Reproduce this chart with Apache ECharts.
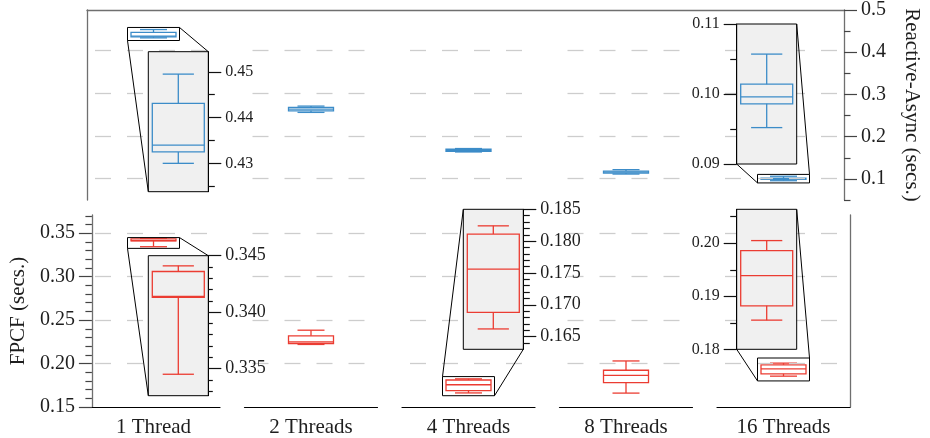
<!DOCTYPE html>
<html>
<head>
<meta charset="utf-8">
<script src="https://cdn.jsdelivr.net/npm/echarts@6/dist/echarts.min.js"></script>
<style>
  html, body { margin: 0; padding: 0; background: #fff; }
  #main { width: 930px; height: 438px; }
</style>
</head>
<body>
<div id="main"></div>
<script>
// data: [min, q1, median, q3, max] per thread count
var threads = ['1 Thread', '2 Threads', '4 Threads', '8 Threads', '16 Threads'];
var reactiveAsync = [
  [0.4300, 0.4325, 0.4340, 0.4431, 0.4495],
  [0.2553, 0.2591, 0.2631, 0.2671, 0.2701],
  [0.1626, 0.1642, 0.1666, 0.1689, 0.1706],
  [0.1108, 0.1132, 0.1155, 0.1179, 0.1212],
  [0.0952, 0.0986, 0.0996, 0.1014, 0.1057]
];
var fpcf = [
  [0.3345, 0.3413, 0.3414, 0.3436, 0.3441],
  [0.2220, 0.2231, 0.2250, 0.2319, 0.2384],
  [0.1662, 0.1688, 0.1756, 0.1811, 0.1824],
  [0.1660, 0.1780, 0.1865, 0.1923, 0.2030],
  [0.1855, 0.1882, 0.1939, 0.1986, 0.2005]
];

// tick values
var topRange = [0.05, 0.5];
var topTicks = [0.1, 0.2, 0.3, 0.4, 0.5];
var topMinor = [0.05, 0.15, 0.25, 0.35, 0.45];
var topGrid = [0.1, 0.2, 0.3, 0.4];
var botRange = [0.15, 0.371];
var botTicks = [0.15, 0.20, 0.25, 0.30, 0.35];
var botMinor = [0.16, 0.17, 0.18, 0.19, 0.21, 0.22, 0.23, 0.24, 0.26, 0.27, 0.28, 0.29, 0.31, 0.32, 0.33, 0.34, 0.36, 0.37];
var botGrid = [0.20, 0.25, 0.30, 0.35];

// zoomed insets: which panel/column, value range and ticks
var insets = [
  { row: 0, col: 0, range: [0.4238, 0.4544], ticks: [0.43, 0.44, 0.45], minor: [0.425, 0.435, 0.445], dec: 2, side: 'right', link: 'trbl' },
  { row: 0, col: 4, range: [0.09, 0.11], ticks: [0.09, 0.10, 0.11], minor: [0.095, 0.105], dec: 2, side: 'left', link: 'trbl' },
  { row: 1, col: 0, range: [0.3326, 0.345], ticks: [0.335, 0.340, 0.345], minor: [0.333, 0.334, 0.336, 0.337, 0.338, 0.339, 0.341, 0.342, 0.343, 0.344], dec: 3, side: 'right', link: 'trbl' },
  { row: 1, col: 2, range: [0.163, 0.185], ticks: [0.165, 0.170, 0.175, 0.180, 0.185], minor: [0.164, 0.166, 0.167, 0.168, 0.169, 0.171, 0.172, 0.173, 0.174, 0.176, 0.177, 0.178, 0.179, 0.181, 0.182, 0.183, 0.184], dec: 3, side: 'right', link: 'tlbr' },
  { row: 1, col: 4, range: [0.18, 0.2064], ticks: [0.18, 0.19, 0.20], minor: [0.185, 0.195, 0.205], dec: 2, side: 'left', link: 'trbl' }
];

// layout
var colLeft = [87, 244.5, 402, 559.5, 717];
var colWidth = 133;
var rowTop = [8, 215];
var rowHeight = 192;
var insetBox = [
  { left: 148.3, top: 51.7 },
  { left: 736.7, top: 24 },
  { left: 148.3, top: 255.7 },
  { left: 463.3, top: 209.3 },
  { left: 736.7, top: 209.3 }
];
var insetW = 60, insetH = 140;

var FONT = "'Liberation Serif', 'DejaVu Serif', serif";
var TXT = '#1e1e1e';
var SPINE = '#6f6f6f';
var BLUE = '#3c8cc8';
var RED = '#eb3c32';

function boxRenderer(color, halfW) {
  return function (params, api) {
    var cat = api.value(0);
    var x = api.coord([cat, api.value(3)])[0];
    function y(i) { return api.coord([cat, api.value(i)])[1]; }
    var lo = y(1), q1 = y(2), med = y(3), q3 = y(4), hi = y(5);
    var cap = halfW * 0.6;
    var st = { stroke: color, lineWidth: 1.3, fill: 'none' };
    return {
      type: 'group',
      children: [
        { type: 'rect', shape: { x: x - halfW, y: q3, width: 2 * halfW, height: q1 - q3 }, style: st },
        { type: 'line', shape: { x1: x - halfW, y1: med, x2: x + halfW, y2: med }, style: st },
        { type: 'line', shape: { x1: x, y1: q3, x2: x, y2: hi }, style: st },
        { type: 'line', shape: { x1: x, y1: q1, x2: x, y2: lo }, style: st },
        { type: 'line', shape: { x1: x - cap, y1: hi, x2: x + cap, y2: hi }, style: st },
        { type: 'line', shape: { x1: x - cap, y1: lo, x2: x + cap, y2: lo }, style: st }
      ]
    };
  };
}

function gridMark(vals) {
  return {
    silent: true,
    symbol: 'none',
    label: { show: false },
    lineStyle: { color: '#cdcdcd', width: 1.3, type: [16, 16], dashOffset: 24 },
    data: vals.map(function (v) { return { yAxis: v }; })
  };
}

var grid = [], xAxis = [], yAxis = [], series = [];
var colGrid = [[], []];

for (var r = 0; r < 2; r++) {
  for (var c = 0; c < 5; c++) {
    var gi = grid.length;
    grid.push({ left: colLeft[c], top: rowTop[r], width: colWidth, height: rowHeight });
    colGrid[r].push(gi);
    xAxis.push({
      gridIndex: gi, type: 'category', data: [threads[c]], show: r === 1, position: 'bottom',
      axisLine: { onZero: false, lineStyle: { color: '#000', width: 1.2 } },
      axisTick: { show: false },
      axisLabel: { fontSize: 21, margin: 10, color: TXT, fontFamily: FONT }
    });
    yAxis.push({
      gridIndex: gi, type: 'value', show: false,
      min: r === 0 ? topRange[0] : botRange[0], max: r === 0 ? topRange[1] : botRange[1]
    });
    var vals = r === 0 ? reactiveAsync[c] : fpcf[c];
    series.push({
      type: 'custom', xAxisIndex: xAxis.length - 1, yAxisIndex: yAxis.length - 1,
      encode: { x: 0, y: [1, 2, 3, 4, 5] },
      data: [[0].concat(vals)],
      renderItem: boxRenderer(r === 0 ? BLUE : RED, 22.5),
      markLine: gridMark(r === 0 ? topGrid : botGrid),
      silent: true
    });
  }
}

// top frame
var ft = grid.length;
grid.push({ left: 87, top: rowTop[0], width: 763, height: rowHeight });
xAxis.push({
  gridIndex: ft, type: 'category', data: [''], position: 'top',
  axisLine: { show: true, onZero: false, lineStyle: { color: SPINE, width: 1.3 } },
  axisTick: { show: false }, axisLabel: { show: false }
});
yAxis.push({
  gridIndex: ft, type: 'value', position: 'right', min: topRange[0], max: topRange[1],
  name: 'Reactive-Async (secs.)', nameLocation: 'middle', nameRotate: -90, nameGap: 57,
  nameTextStyle: { fontSize: 21, fontFamily: FONT, color: TXT },
  axisLine: { show: true, onZero: false, lineStyle: { color: SPINE, width: 1.3 } },
  axisTick: { show: true, length: 13, customValues: topTicks, lineStyle: { color: '#444', width: 1.2 } },
  axisLabel: { customValues: topTicks, formatter: function (v) { return v.toFixed(1); }, margin: 17, fontSize: 20, fontFamily: FONT, color: TXT },
  splitLine: { show: false }
});
yAxis.push({
  gridIndex: ft, type: 'value', position: 'right', min: topRange[0], max: topRange[1],
  axisLine: { show: false, onZero: false },
  axisTick: { show: true, length: 6.5, customValues: topMinor, lineStyle: { color: '#444', width: 1.2 } },
  axisLabel: { show: false }, splitLine: { show: false }
});
yAxis.push({
  gridIndex: ft, type: 'value', position: 'left', min: topRange[0], max: topRange[1],
  axisLine: { show: true, onZero: false, lineStyle: { color: SPINE, width: 1.3 } },
  axisTick: { show: false }, axisLabel: { show: false }, splitLine: { show: false }
});

// bottom frame
var fb = grid.length;
grid.push({ left: 87, top: rowTop[1], width: 763, height: rowHeight });
xAxis.push({ gridIndex: fb, type: 'category', data: [''], show: false });
yAxis.push({
  gridIndex: fb, type: 'value', position: 'left', min: botRange[0], max: botRange[1],
  name: 'FPCF (secs.)', nameLocation: 'middle', nameGap: 58,
  nameTextStyle: { fontSize: 21, fontFamily: FONT, color: TXT },
  axisLine: { show: true, onZero: false, lineStyle: { color: SPINE, width: 1.3 } },
  axisTick: { show: true, length: 13, customValues: botTicks, lineStyle: { color: '#444', width: 1.2 } },
  axisLabel: { customValues: botTicks, formatter: function (v) { return v.toFixed(2); }, margin: 17, fontSize: 20, fontFamily: FONT, color: TXT },
  splitLine: { show: false }
});
yAxis.push({
  gridIndex: fb, type: 'value', position: 'left', min: botRange[0], max: botRange[1],
  axisLine: { show: false, onZero: false },
  axisTick: { show: true, length: 6.5, customValues: botMinor, lineStyle: { color: '#444', width: 1.2 } },
  axisLabel: { show: false }, splitLine: { show: false }
});
yAxis.push({
  gridIndex: fb, type: 'value', position: 'right', min: botRange[0], max: botRange[1],
  axisLine: { show: true, onZero: false, lineStyle: { color: SPINE, width: 1.3 } },
  axisTick: { show: false }, axisLabel: { show: false }, splitLine: { show: false }
});

// insets
insets.forEach(function (ins, k) {
  var gi = grid.length;
  grid.push({
    left: insetBox[k].left, top: insetBox[k].top, width: insetW, height: insetH,
    show: true, backgroundColor: '#f0f0f0', borderColor: '#000', borderWidth: 1, z: 10
  });
  xAxis.push({ gridIndex: gi, type: 'category', data: [''], show: false, z: 11 });
  var fs = ins.dec === 3 ? 18 : 16;
  yAxis.push({
    gridIndex: gi, type: 'value', position: ins.side, min: ins.range[0], max: ins.range[1], z: 11,
    axisLine: { show: true, onZero: false, lineStyle: { color: '#000', width: 1 } },
    axisTick: { show: true, length: 13, customValues: ins.ticks, lineStyle: { color: '#111', width: 1.2 } },
    axisLabel: { customValues: ins.ticks, formatter: function (v) { return v.toFixed(ins.dec); }, margin: 17, fontSize: fs, fontFamily: FONT, color: TXT },
    splitLine: { show: false }
  });
  yAxis.push({
    gridIndex: gi, type: 'value', position: ins.side, min: ins.range[0], max: ins.range[1], z: 11,
    axisLine: { show: false, onZero: false },
    axisTick: { show: true, length: ins.dec === 3 && ins.col === 0 ? 4.5 : 6.5, customValues: ins.minor, lineStyle: { color: '#111', width: 1.2 } },
    axisLabel: { show: false }, splitLine: { show: false }
  });
  var vals = ins.row === 0 ? reactiveAsync[ins.col] : fpcf[ins.col];
  series.push({
    type: 'custom', xAxisIndex: xAxis.length - 1, yAxisIndex: yAxis.length - 2, z: 12,
    encode: { x: 0, y: [1, 2, 3, 4, 5] },
    data: [[0].concat(vals)],
    renderItem: boxRenderer(ins.row === 0 ? BLUE : RED, 26),
    markLine: gridMark(ins.ticks.filter(function (v) { return v > ins.range[0] + 1e-9 && v < ins.range[1] - 1e-9; })),
    silent: true
  });
});

var chart = echarts.init(document.getElementById('main'), null, { renderer: 'canvas' });
chart.setOption({
  animation: false,
  backgroundColor: '#fff',
  textStyle: { fontFamily: FONT },
  grid: grid, xAxis: xAxis, yAxis: yAxis, series: series
});

// zoom rectangles and connector lines, placed through the axes
var graphics = [];
insets.forEach(function (ins, k) {
  var gi = colGrid[ins.row][ins.col];
  var pHi = chart.convertToPixel({ gridIndex: gi }, [0, ins.range[1]]);
  var pLo = chart.convertToPixel({ gridIndex: gi }, [0, ins.range[0]]);
  var rx = pHi[0] - 26, ry = pHi[1], rw = 52, rh = pLo[1] - pHi[1];
  var ix = insetBox[k].left, iy = insetBox[k].top, iw = insetW, ih = insetH;
  var ln = { stroke: '#000', lineWidth: 1 };
  graphics.push({ type: 'rect', z: 30, silent: true, shape: { x: rx, y: ry, width: rw, height: rh }, style: { stroke: '#000', lineWidth: 1, fill: 'none' } });
  if (ins.link === 'trbl') {
    graphics.push({ type: 'line', z: 30, silent: true, shape: { x1: rx + rw, y1: ry, x2: ix + iw, y2: iy }, style: ln });
    graphics.push({ type: 'line', z: 30, silent: true, shape: { x1: rx, y1: ry + rh, x2: ix, y2: iy + ih }, style: ln });
  } else {
    graphics.push({ type: 'line', z: 30, silent: true, shape: { x1: rx, y1: ry, x2: ix, y2: iy }, style: ln });
    graphics.push({ type: 'line', z: 30, silent: true, shape: { x1: rx + rw, y1: ry + rh, x2: ix + iw, y2: iy + ih }, style: ln });
  }
});
chart.setOption({ graphic: graphics });
</script>
</body>
</html>
